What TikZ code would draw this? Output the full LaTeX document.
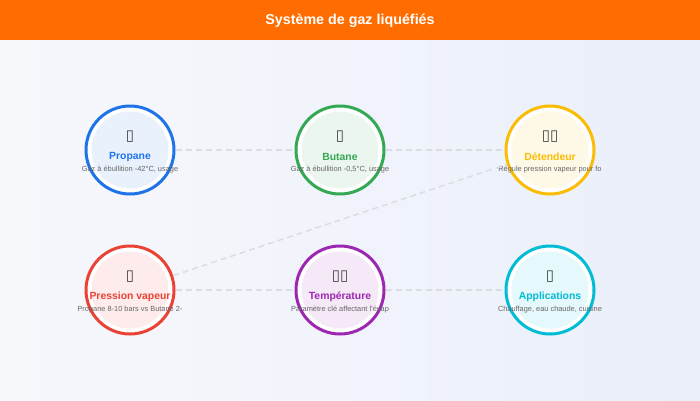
\documentclass[tikz,border=0pt]{standalone}
\usepackage{fontspec}
\setmainfont{Liberation Sans}
\newfontfamily\symfont{DejaVu Sans}
\usetikzlibrary{positioning}
\definecolor{headbar}{HTML}{FF6D00}
\definecolor{bgleft}{HTML}{F7F8FC}
\definecolor{bgright}{HTML}{EAEFFA}
\definecolor{cblue}{HTML}{1E73E8}
\definecolor{cgreen}{HTML}{34A853}
\definecolor{cyellow}{HTML}{FBBC04}
\definecolor{cred}{HTML}{EA4335}
\definecolor{cpurple}{HTML}{9C27B0}
\definecolor{ccyan}{HTML}{00BCD4}
\definecolor{linkgray}{HTML}{DADDE2}
\definecolor{desc}{HTML}{666666}
\tikzset{
  hub/.style={circle, draw=#1, line width=3pt, fill=white, minimum size=88pt,
    inner sep=0pt, outer sep=1.5pt,
    path picture={\fill[#1!10] (path picture bounding box.center) circle (38.5pt);}},
  link/.style={draw=linkgray, line width=1.5pt, dash pattern=on 6pt off 4pt},
  iconlabel/.style={font=\symfont\fontsize{15}{15}\selectfont, text=black!75, inner sep=0pt},
  hublabel/.style={font=\bfseries\fontsize{10.4}{12}\selectfont, inner sep=0pt},
  desctext/.style={font=\fontsize{7.4}{8}\selectfont, text=desc, inner sep=0pt}
}
\begin{document}
\begin{tikzpicture}[x=1pt,y=-1pt]
  \useasboundingbox (0,0) rectangle (700,400);
  \shade[left color=bgleft, right color=bgright] (0,40) rectangle (700,400);
  \fill[headbar] (0,0) rectangle (700,40);
  \node[text=white, font=\bfseries\fontsize{14.3}{16}\selectfont] (title) at (350,21) {Système de gaz liquéfiés};

  % stations
  \node[hub=cblue] (propane) at (130,150) {};
  \node[hub=cgreen, right=119pt of propane] (butane) {};
  \node[hub=cyellow, right=119pt of butane] (detendeur) {};
  \node[hub=cred, below=49pt of propane] (pression) {};
  \node[hub=cpurple, right=119pt of pression] (temperature) {};
  \node[hub=ccyan, right=119pt of temperature] (applications) {};

  \foreach \n/\c/\i/\t/\d in {
      propane/cblue/▯/Propane/{Gaz à ébullition -42°C, usage},
      butane/cgreen/▯/Butane/{Gaz à ébullition -0,5°C, usage},
      detendeur/cyellow/▯▯/Détendeur/{Régule pression vapeur pour fo},
      pression/cred/▯/Pression vapeur/{Propane 8-10 bars vs Butane 2-},
      temperature/cpurple/▯▯/Température/{Paramètre clé affectant l’évap},
      applications/ccyan/▯/Applications/{Chauffage, eau chaude, cuisine}} {
    \node[iconlabel] (\n-icon) at ([yshift=13pt]\n.center) {\i};
    \node[hublabel, text=\c] (\n-label) at ([yshift=-6.5pt]\n.center) {\t};
    \node[desctext] (\n-desc) at ([yshift=-19.5pt]\n.center) {\d};
  }

  % links
  \draw[link] (propane) -- (butane);
  \draw[link] (butane) -- (detendeur);
  \draw[link] (pression) -- (temperature);
  \draw[link] (temperature) -- (applications);
  \draw[link] (pression) -- (detendeur);
\end{tikzpicture}
\end{document}
